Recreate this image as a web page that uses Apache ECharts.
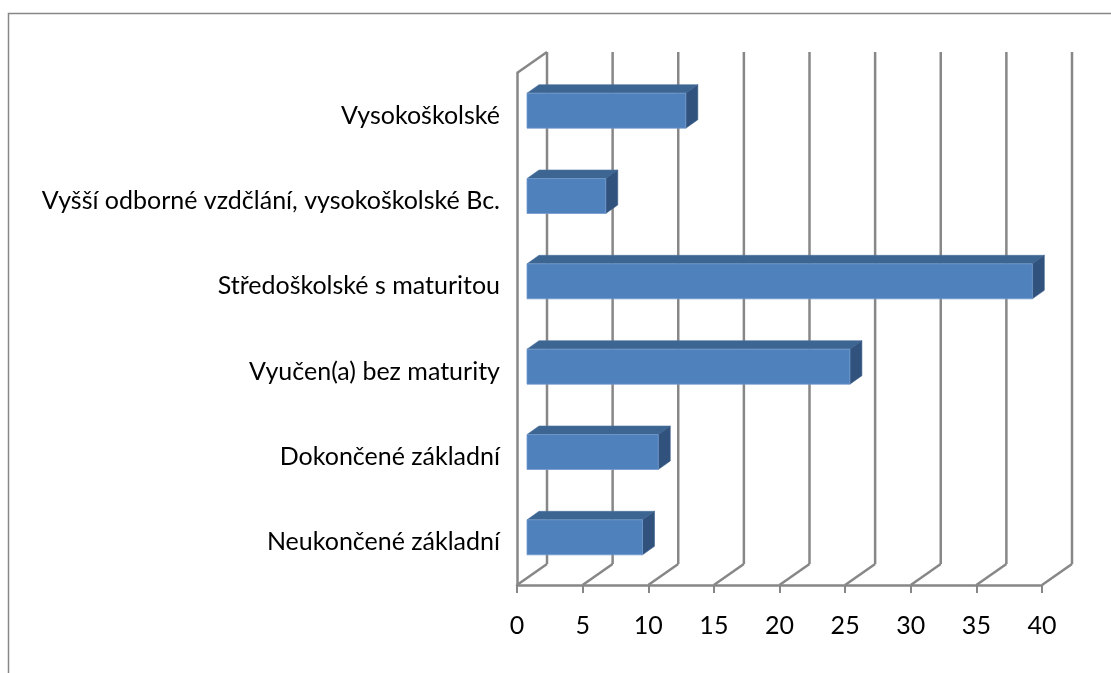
<!DOCTYPE html>
<html>
<head>
<meta charset="utf-8">
<script src="https://cdn.jsdelivr.net/npm/echarts@6/dist/echarts.min.js"></script>
<style>
  html, body { margin: 0; padding: 0; background: #fff; }
  #chart { width: 1111px; height: 673px; }
</style>
</head>
<body>
<div id="chart"></div>
<script>
// data
const categories = [
    'Neukončené základní',
    'Dokončené základní',
    'Vyučen(a) bez maturity',
    'Středoškolské s maturitou',
    'Vyšší odborné vzdčlání, vysokoškolské Bc.',
    'Vysokoškolské'
];
const values = [8.8, 10.0, 24.6, 38.5, 6.0, 12.1];
const xTicks = [0, 5, 10, 15, 20, 25, 30, 35, 40];

// 3D look (pixels)
const WALL_DX = 30, WALL_DY = -21;   // depth of the back wall
const BAR_FX = 10, BAR_FY = -5;      // bar front face offset
const BAR_DX = 12, BAR_DY = -8.5;    // bar depth
const BAR_H = 35;
const GRID_COLOR = '#878787';
const FONT = 'Lato';

const chart = echarts.init(document.getElementById('chart'));

function renderWalls(params, api) {
    const cs = params.coordSys;
    const top = cs.y, bottom = cs.y + cs.height;
    const x = api.coord([api.value(0), 0])[0];
    const style = { stroke: GRID_COLOR, lineWidth: 2.5, fill: null };
    const children = [
        { type: 'line', shape: { x1: x + WALL_DX, y1: top + WALL_DY, x2: x + WALL_DX, y2: bottom + WALL_DY }, style },
        { type: 'line', shape: { x1: x, y1: bottom, x2: x + WALL_DX, y2: bottom + WALL_DY }, style }
    ];
    if (params.dataIndex === 0) {
        children.push({ type: 'line', shape: { x1: x, y1: top, x2: x + WALL_DX, y2: top + WALL_DY }, style });
    }
    return { type: 'group', children };
}

function renderBar(params, api) {
    const p0 = api.coord([0, api.value(1)]);
    const p1 = api.coord([api.value(0), api.value(1)]);
    const xl = p0[0] + BAR_FX, xr = p1[0] + BAR_FX;
    const yt = p0[1] + BAR_FY - BAR_H / 2, yb = yt + BAR_H;
    return {
        type: 'group',
        children: [
            { type: 'polygon', shape: { points: [[xl, yt], [xr, yt], [xr + BAR_DX, yt + BAR_DY], [xl + BAR_DX, yt + BAR_DY]] },
              style: { fill: '#3D6592', stroke: '#4a72a3', lineWidth: 0.6 } },
            { type: 'polygon', shape: { points: [[xr, yt], [xr + BAR_DX, yt + BAR_DY], [xr + BAR_DX, yb + BAR_DY], [xr, yb]] },
              style: { fill: '#30527D', stroke: '#3c5f8c', lineWidth: 0.6 } },
            { type: 'rect', shape: { x: xl, y: yt, width: xr - xl, height: BAR_H },
              style: { fill: '#4F81BD', stroke: '#7299cc', lineWidth: 0.8 } }
        ]
    };
}

const option = {
    animation: false,
    backgroundColor: '#fff',
    textStyle: { fontFamily: FONT },
    graphic: [
        { type: 'polyline', silent: true, shape: { points: [[8.5, 673], [8.5, 13.5], [1111, 13.5]] },
          style: { stroke: '#878787', lineWidth: 1.5, fill: null } }
    ],
    grid: { left: 517, right: 69, top: 73, bottom: 88 },
    xAxis: {
        type: 'value', min: 0, max: 40, interval: 5,
        axisLine: { show: true, lineStyle: { color: GRID_COLOR, width: 2.5 } },
        axisTick: { show: true, length: 8, lineStyle: { color: GRID_COLOR, width: 2 } },
        axisLabel: { color: '#000', fontSize: 25, margin: 28, fontFamily: FONT },
        splitLine: { show: false }
    },
    yAxis: {
        type: 'category', data: categories,
        axisLine: { show: true, lineStyle: { color: GRID_COLOR, width: 2.5 } },
        axisTick: { show: false },
        axisLabel: { color: '#000', fontSize: 25, margin: 17, fontFamily: FONT, padding: [8, 0, 0, 0] }
    },
    series: [
        {
            type: 'custom', name: 'walls', silent: true, z: 1,
            data: xTicks.map(v => [v]),
            encode: { x: 0 },
            renderItem: renderWalls
        },
        {
            type: 'custom', name: 'bars', z: 3,
            data: values.map((v, i) => [v, i]),
            encode: { x: 0, y: 1 },
            renderItem: renderBar
        }
    ]
};

chart.setOption(option);
</script>
</body>
</html>
